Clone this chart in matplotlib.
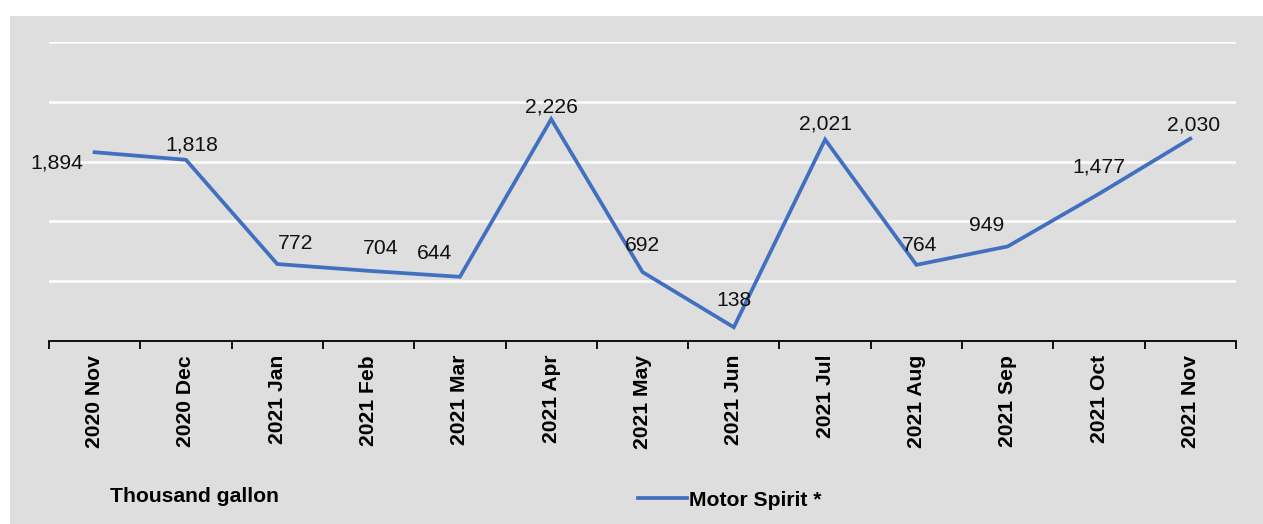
import matplotlib
matplotlib.use("Agg")
import matplotlib.pyplot as plt
from matplotlib.patches import Rectangle
import numpy as np

months = ["2020 Nov", "2020 Dec", "2021 Jan", "2021 Feb", "2021 Mar", "2021 Apr",
          "2021 May", "2021 Jun", "2021 Jul", "2021 Aug", "2021 Sep", "2021 Oct",
          "2021 Nov"]
motor_spirit = [1894, 1818, 772, 704, 644, 2226, 692, 138, 2021, 764, 949, 1477, 2030]

# label offsets in points (dx, dy)
label_offsets = [(-27, -8), (4, 11), (13, 15), (9, 16), (-18, 17), (0, 9),
                 (0, 19), (0, 19), (0, 11), (2, 14), (-15, 15), (0, 19), (2, 10)]

FS = 15.2
plt.rcParams["font.family"] = ["Liberation Sans", "DejaVu Sans"]
W, H = 1263, 524
fig = plt.figure(figsize=(W / 100, H / 100), dpi=100, facecolor="white")
fig.patches.append(Rectangle((10 / W, 0), 1 - 10 / W, 1 - 16 / H,
                             transform=fig.transFigure, facecolor="#dedede",
                             edgecolor="none", zorder=-5))

ax = fig.add_axes([49 / W, 1 - 341 / H, (1236 - 49) / W, (341 - 42) / H])
ax.set_zorder(2)
ax.patch.set_visible(False)

x = np.arange(len(months))
line, = ax.plot(x, motor_spirit, color="#4170c0", lw=2.7, solid_joinstyle="miter",
                label="Motor Spirit *", zorder=3)

for xi, v, (dx, dy) in zip(x, motor_spirit, label_offsets):
    ax.annotate(f"{v:,}", (xi, v), xytext=(dx, dy), textcoords="offset points",
                ha="center", va="center", fontsize=FS, color="#111111")

ax.set_xlim(-0.5, len(months) - 0.5)
ax.set_ylim(0, 3000)
ax.set_yticks([600, 1200, 1800, 2400, 3000])
ax.yaxis.grid(True, color="white", lw=1.8)
ax.set_axisbelow(True)
ax.tick_params(axis="y", left=False, labelleft=False)
for s in ["top", "right", "left"]:
    ax.spines[s].set_visible(False)
ax.spines["bottom"].set_color("black")
ax.spines["bottom"].set_linewidth(1.3)

ax.set_xticks(x)
ax.set_xticklabels(months, rotation=90, fontsize=FS, fontweight="bold")
ax.tick_params(axis="x", which="major", length=0, pad=10)
ax.set_xticks(np.arange(-0.5, len(months)), minor=True)
ax.tick_params(axis="x", which="minor", length=6, width=1.3, color="black")

fig.text(110 / W, 1 - 497 / H, "Thousand gallon", fontsize=FS, fontweight="bold",
         ha="left", va="center")
fig.legend(handles=[line], loc="center left", bbox_to_anchor=(638 / W, 1 - 500 / H),
           frameon=False, prop={"weight": "bold", "size": FS},
           handlelength=2.3, handletextpad=0.1, borderpad=0, borderaxespad=0)

fig.savefig("out.png", dpi=100, facecolor="white")
